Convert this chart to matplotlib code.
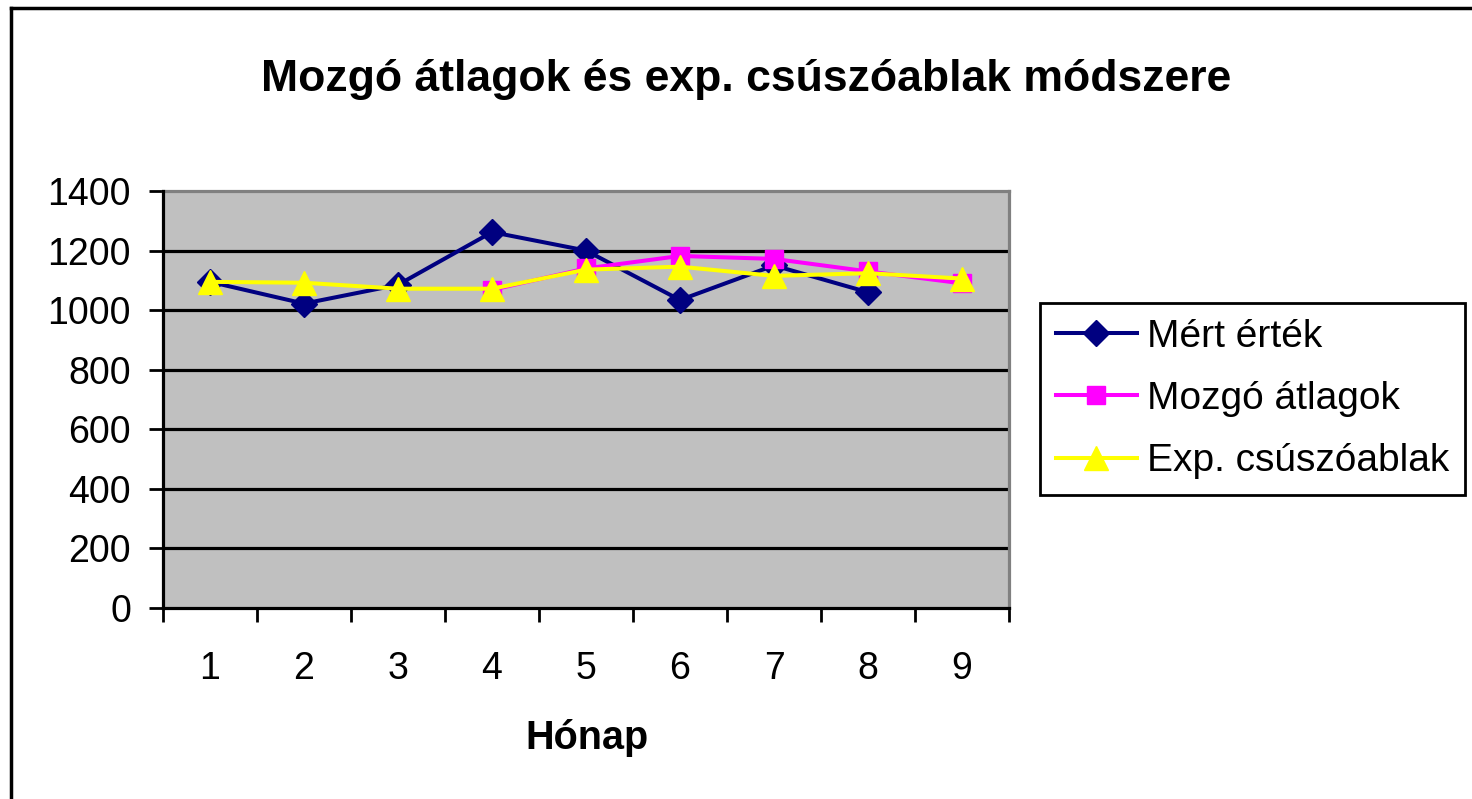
import matplotlib
matplotlib.use("Agg")
import matplotlib.pyplot as plt
from matplotlib.lines import Line2D

plt.rcParams['font.family'] = ['Liberation Sans', 'DejaVu Sans']

# data
honap = [1, 2, 3, 4, 5, 6, 7, 8, 9]
mert_ertek = [1095, 1022, 1085, 1262, 1200, 1034, 1150, 1060]
mozgo_atlag_honap = [4, 5, 6, 7, 8, 9]
mozgo_atlagok = [1068, 1140, 1182, 1172, 1130, 1090]
exp_csuszo = [1095, 1092, 1072, 1072, 1136, 1146, 1115, 1124, 1106]
yticks = [0, 200, 400, 600, 800, 1000, 1200, 1400]

fig = plt.figure(figsize=(14.72, 7.99), dpi=100)
ax = fig.add_axes([163/1472, 1-608/799, (1009-163)/1472, (608-191)/799])
ax.set_facecolor('#C0C0C0')

# gridlines
for v in yticks[1:-1]:
    ax.axhline(v, color='black', lw=2.3, zorder=1)

ax.plot(honap[:len(mert_ertek)], mert_ertek, color='#000080', lw=2.9,
        marker='D', markersize=13, zorder=3, label='Mért érték')
ax.plot(mozgo_atlag_honap, mozgo_atlagok, color='#FF00FF', lw=2.9,
        marker='s', markersize=13, zorder=4, label='Mozgó átlagok')
ax.plot(honap, exp_csuszo, color='#FFFF00', lw=2.9,
        marker='^', markersize=17, zorder=5, label='Exp. csúszóablak')

ax.set_xlim(0.5, 9.5)
ax.set_ylim(0, 1400)
ax.set_yticks(yticks)
ax.set_xticks(honap)
ax.set_xticks([x + 0.5 for x in range(0, 10)], minor=True)
ax.tick_params(axis='x', which='major', length=0, pad=31, labelsize=27)
ax.tick_params(axis='x', which='minor', length=10, width=2, direction='out', color='black')
ax.tick_params(axis='y', length=10, width=2, direction='out', pad=13, labelsize=27)

for side in ['left', 'bottom']:
    ax.spines[side].set_color('black')
    ax.spines[side].set_linewidth(2.3)
    ax.spines[side].set_zorder(6)
for side in ['top', 'right']:
    ax.spines[side].set_color('#808080')
    ax.spines[side].set_linewidth(2.3)

fig.text(746/1472, 1-80/799, 'Mozgó átlagok és exp. csúszóablak módszere',
         ha='center', va='center', fontsize=32, fontweight='bold')
fig.text(587/1472, 1-738/799, 'Hónap', ha='center', va='center',
         fontsize=28.5, fontweight='bold')

# outer chart frame (only left and top edges visible)
fig.add_artist(Line2D([11/1472, 11/1472], [0, 1-8/799], color='black', lw=2.5))
fig.add_artist(Line2D([11/1472, 1], [1-8/799, 1-8/799], color='black', lw=2.5))

leg = fig.legend(loc='upper left', bbox_to_anchor=(1040/1472, 1-303/799),
                 fontsize=28, frameon=True, fancybox=False, framealpha=1,
                 handlelength=2.1, handletextpad=0.25, labelspacing=0.68,
                 borderpad=0.4, borderaxespad=0)
leg.get_frame().set_edgecolor('black')
leg.get_frame().set_linewidth(2)

fig.savefig('out.png', dpi=100)
